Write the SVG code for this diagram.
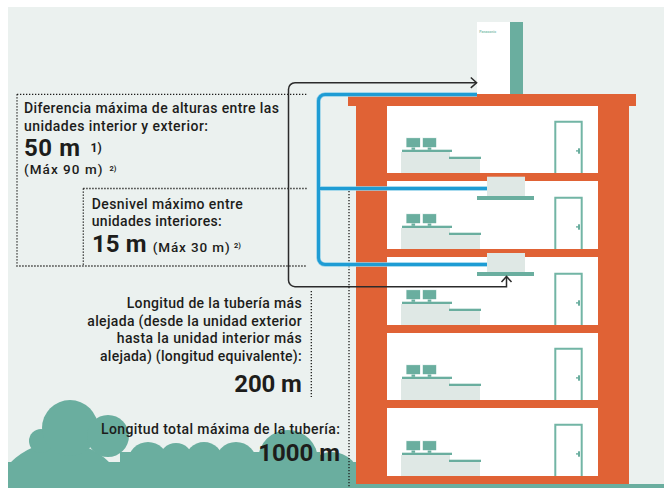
<svg xmlns="http://www.w3.org/2000/svg" xmlns:xlink="http://www.w3.org/1999/xlink" width="664" height="488" viewBox="0 0 664 488">
  <style>
    .t { font-family: Roboto, "Liberation Sans", sans-serif; font-size: 14px; font-weight: 500; fill: #1d1d1b; }
    .s { font-size: 13.5px; }
    .b { font-size: 24px; font-weight: 700; }
    .sup1 { font-size: 12px; font-weight: 700; }
    .sup2 { font-size: 7.5px; font-weight: 700; }
    .end { text-anchor: end; }
    .wall { fill: #e06235; }
    .room { fill: #ffffff; }
    .green { fill: #6aae9f; }
    .grey { fill: #dfe8e5; }
    .dot { fill: none; stroke: #1d1d1b; stroke-width: 1.3; stroke-dasharray: 1.3 1.7; }
    .halo { fill: none; stroke: #8fcfe9; stroke-width: 4.4; }
    .pipe { fill: none; stroke: #1e9cd4; stroke-width: 3; }
    .arrow { fill: none; stroke: #2b2b2b; stroke-width: 1.5; stroke-linejoin: miter; }
  </style>
  <defs>
    <clipPath id="field">
      <rect x="8" y="7" width="656" height="481"/>
    </clipPath>
    <!-- office furniture and door, drawn relative to the room floor at y=0 -->
    <g id="furniture">
      <rect class="grey" x="401" y="-21" width="49" height="21"/>
      <rect class="grey" x="450" y="-14" width="30" height="14"/>
      <rect class="green" x="402" y="-23.3" width="50" height="2.3"/>
      <rect class="green" x="449" y="-16.3" width="32" height="2.3"/>
      <rect class="green" x="406" y="-35.3" width="14.6" height="10" stroke="#ffffff" stroke-width="0.8"/>
      <rect class="green" x="411.5" y="-25.5" width="3.6" height="2.3"/>
      <rect class="green" x="422.3" y="-35.3" width="14.4" height="10" stroke="#ffffff" stroke-width="0.8"/>
      <rect class="green" x="427.7" y="-25.5" width="3.6" height="2.3"/>
      <rect class="room" x="555.3" y="-51.3" width="26.4" height="51.3"/>
      <path d="M555.3,0 V-51.3 H581.7 V0" fill="none" stroke="#72b5a5" stroke-width="2"/>
      <rect class="green" x="578" y="-24.7" width="2" height="5.4"/>
      <rect class="green" x="576" y="-22.8" width="2.2" height="1.4"/>
    </g>
  </defs>

  <!-- backdrop -->
  <rect x="0" y="0" width="664" height="488" fill="#ffffff"/>
  <rect x="8" y="7" width="656" height="481" fill="#ebf1ef"/>

  <!-- hills -->
  <g id="hills" class="green" clip-path="url(#field)">
    <circle cx="60" cy="512" r="70"/>
    <circle cx="41" cy="441" r="12"/>
    <circle cx="70" cy="428" r="28"/>
    <circle cx="108" cy="436" r="21"/>
    <circle cx="148" cy="462" r="20"/>
    <circle cx="176" cy="460" r="17"/>
    <circle cx="204" cy="461" r="19"/>
    <circle cx="236" cy="463" r="21"/>
    <circle cx="288" cy="460" r="30"/>
    <circle cx="332" cy="480" r="28"/>
    <rect x="8" y="462" width="348" height="26"/>
    <rect x="120" y="452" width="200" height="36"/>
  </g>
  <rect id="ground" class="green" x="8" y="484" width="656" height="4"/>

  <!-- building -->
  <g id="building">
    <rect class="wall" x="348" y="94" width="288" height="12"/>
    <rect class="wall" x="356" y="106" width="273" height="378"/>
    <rect class="room" x="387" y="106" width="211" height="67"/>
    <rect class="room" x="387" y="181" width="211" height="68"/>
    <rect class="room" x="387" y="257" width="211" height="68"/>
    <rect class="room" x="387" y="333" width="211" height="67"/>
    <rect class="room" x="387" y="408" width="211" height="68"/>
    <use xlink:href="#furniture" transform="translate(0,173)"/>
    <use xlink:href="#furniture" transform="translate(0,249)"/>
    <use xlink:href="#furniture" transform="translate(0,325)"/>
    <use xlink:href="#furniture" transform="translate(0,400)"/>
    <use xlink:href="#furniture" transform="translate(0,476)"/>
  </g>

  <!-- outdoor unit on the roof -->
  <g id="outdoor-unit">
    <rect x="477" y="22" width="33" height="72" fill="#ffffff"/>
    <rect class="green" x="510" y="22" width="13" height="72"/>
    <text x="479.3" y="33.4" font-family="Roboto, sans-serif" font-size="3.6" font-weight="700" fill="#8cc4b6">Panasonic</text>
  </g>

  <!-- ceiling indoor units -->
  <g id="indoor-unit-1">
    <rect class="grey" x="487" y="176.7" width="38" height="19.3"/>
    <rect class="green" x="477" y="196" width="57" height="4"/>
  </g>
  <g id="indoor-unit-2">
    <rect class="grey" x="487" y="253" width="38" height="19"/>
    <rect class="green" x="477" y="272" width="57" height="4"/>
  </g>

  <!-- connectors -->
  <g id="connectors">
    <path class="dot" d="M17,94.3 H307 M17,94.3 V266 H307"/>
    <path class="dot" d="M83.3,188.5 H307 M83.3,188.5 V266"/>
    <path class="dot" d="M311.3,291 V397"/>
    <path class="dot" d="M349,191 V488"/>

    <path class="halo" d="M477,94.5 H325 A6.5,6.5 0 0 0 318.5,101 V258 A6.5,6.5 0 0 0 325,264.5 H487 M318.5,188.5 H487"/>
    <path class="pipe" d="M477,94.5 H325 A6.5,6.5 0 0 0 318.5,101 V258 A6.5,6.5 0 0 0 325,264.5 H487 M318.5,188.5 H487"/>

    <path class="arrow" d="M506.5,277 V286.7 H295 A6.5,6.5 0 0 1 288.5,280.2 V89.2 A6.5,6.5 0 0 1 295,82.7 H476.5"/>
    <path class="arrow" d="M470.8,77.5 L476.6,82.7 L470.8,87.9"/>
    <path class="arrow" d="M501.5,282 L506.5,276.4 L511.5,282"/>
  </g>

  <!-- labels -->
  <g id="label-height-outdoor">
    <text class="t" x="24" y="112.5" textLength="255" lengthAdjust="spacing">Diferencia máxima de alturas entre las</text>
    <text class="t" x="24" y="131" textLength="184" lengthAdjust="spacing">unidades interior y exterior:</text>
    <text class="t b" x="24" y="156" textLength="56" lengthAdjust="spacing">50 m</text>
    <text class="t sup1" x="90.5" y="151.5">1)</text>
    <text class="t s" x="24" y="173.5" textLength="78.5" lengthAdjust="spacing">(Máx 90 m)</text>
    <text class="t sup2" x="109.5" y="170.5">2)</text>
  </g>

  <g id="label-height-indoor">
    <text class="t" x="91.7" y="208.7" textLength="151" lengthAdjust="spacing">Desnivel máximo entre</text>
    <text class="t" x="91.7" y="225.7" textLength="130" lengthAdjust="spacing">unidades interiores:</text>
    <text class="t b" x="92" y="252.3" textLength="54.5" lengthAdjust="spacing">15 m</text>
    <text class="t s" x="152.7" y="252" textLength="77" lengthAdjust="spacing">(Máx 30 m)</text>
    <text class="t sup2" x="234" y="248">2)</text>
  </g>

  <g id="label-longest-pipe">
    <text class="t end" x="301.7" y="307.5" textLength="175" lengthAdjust="spacing">Longitud de la tubería más</text>
    <text class="t end" x="301.7" y="325.5" textLength="214.4" lengthAdjust="spacing">alejada (desde la unidad exterior</text>
    <text class="t end" x="301.7" y="343.3" textLength="185" lengthAdjust="spacing">hasta la unidad interior más</text>
    <text class="t end" x="301.7" y="361" textLength="201.7" lengthAdjust="spacing">alejada) (longitud equivalente):</text>
    <text class="t b end" x="301.7" y="391.5" textLength="67.4" lengthAdjust="spacing">200 m</text>
  </g>

  <g id="label-total-pipe">
    <text class="t end" x="340" y="434.3" textLength="239" lengthAdjust="spacing">Longitud total máxima de la tubería:</text>
    <text class="t b end" x="340" y="461" textLength="81.7" lengthAdjust="spacing">1000 m</text>
  </g>
</svg>
